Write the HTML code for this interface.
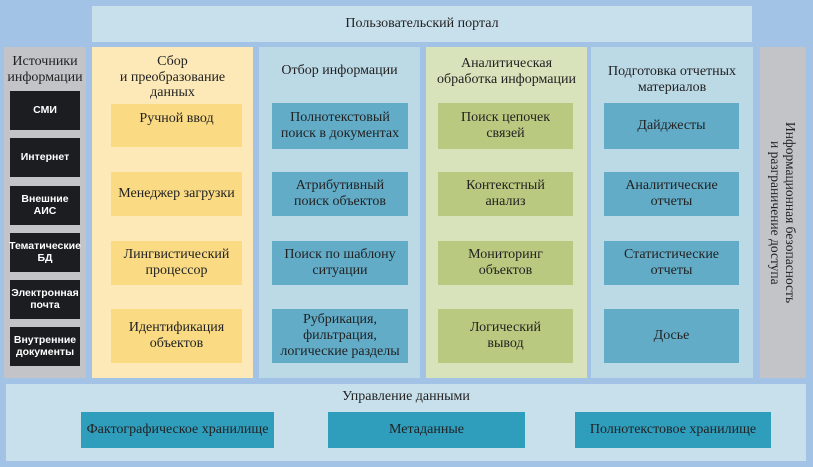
<!DOCTYPE html>
<html><head><meta charset="utf-8"><style>
*{margin:0;padding:0;box-sizing:border-box}
body{width:813px;height:467px;background:#a2c2e6;position:relative;overflow:hidden;font-family:"Liberation Serif","DejaVu Serif",serif;color:#222;}
.a{position:absolute;display:flex;align-items:center;justify-content:center;text-align:center;line-height:1.12}
.t{position:absolute;text-align:center;line-height:1.12;font-size:14px}
.blk{background:#1c1d21;color:#fff;font-weight:bold;font-size:10.5px;left:10px;width:70px;height:39px;font-family:"Liberation Sans Narrow","Liberation Sans",sans-serif}
.y{background:#fadb84;font-size:14px}
.b{background:#62acc8;font-size:14px}
.g{background:#b9c97f;font-size:14px}
.d{background:#2f9dbc;font-size:14px;top:412px;height:36px}
</style></head><body>
<div class="a" style="left:92px;top:6px;width:660px;height:36px;background:#c8e0ec;font-size:14px">Пользовательский портал</div>

<div class="a" style="left:4px;top:47px;width:82px;height:331px;background:#c3c4c8"></div>
<div class="t" style="left:2px;top:54px;width:86px;font-size:14px">Источники<br>информации</div>
<div class="a blk" style="top:91px">СМИ</div>
<div class="a blk" style="top:138px">Интернет</div>
<div class="a blk" style="top:186px">Внешние<br>АИС</div>
<div class="a blk" style="top:233px">Тематические<br>БД</div>
<div class="a blk" style="top:280px">Электронная<br>почта</div>
<div class="a blk" style="top:327px">Внутренние<br>документы</div>

<div class="a" style="left:92px;top:47px;width:161px;height:331px;background:#fde9b8"></div>
<div class="t" style="left:92px;top:54px;width:161px">Сбор<br>и преобразование<br>данных</div>
<div class="a y" style="left:111px;top:104px;width:131px;height:43px;align-items:flex-start;padding-top:7px">Ручной ввод</div>
<div class="a y" style="left:111px;top:172px;width:131px;height:44px">Менеджер загрузки</div>
<div class="a y" style="left:111px;top:241px;width:131px;height:44px">Лингвистический<br>процессор</div>
<div class="a y" style="left:111px;top:309px;width:131px;height:54px">Идентификация<br>объектов</div>

<div class="a" style="left:259px;top:47px;width:161px;height:331px;background:#bcd9e6"></div>
<div class="t" style="left:259px;top:63px;width:161px">Отбор информации</div>
<div class="a b" style="left:272px;top:103px;width:136px;height:46px">Полнотекстовый<br>поиск в документах</div>
<div class="a b" style="left:272px;top:172px;width:136px;height:44px">Атрибутивный<br>поиск объектов</div>
<div class="a b" style="left:272px;top:241px;width:136px;height:44px">Поиск по шаблону<br>ситуации</div>
<div class="a b" style="left:272px;top:309px;width:136px;height:54px">Рубрикация,<br>фильтрация,<br>логические разделы</div>

<div class="a" style="left:426px;top:47px;width:161px;height:331px;background:#d8e3bb"></div>
<div class="t" style="left:426px;top:56px;width:161px">Аналитическая<br>обработка информации</div>
<div class="a g" style="left:438px;top:103px;width:135px;height:46px">Поиск цепочек<br>связей</div>
<div class="a g" style="left:438px;top:172px;width:135px;height:44px">Контекстный<br>анализ</div>
<div class="a g" style="left:438px;top:241px;width:135px;height:44px">Мониторинг<br>объектов</div>
<div class="a g" style="left:438px;top:309px;width:135px;height:54px">Логический<br>вывод</div>

<div class="a" style="left:591px;top:47px;width:162px;height:331px;background:#bcd9e6"></div>
<div class="t" style="left:591px;top:64px;width:162px">Подготовка отчетных<br>материалов</div>
<div class="a b" style="left:604px;top:103px;width:135px;height:46px">Дайджесты</div>
<div class="a b" style="left:604px;top:172px;width:135px;height:44px">Аналитические<br>отчеты</div>
<div class="a b" style="left:604px;top:241px;width:135px;height:44px">Статистические<br>отчеты</div>
<div class="a b" style="left:604px;top:309px;width:135px;height:54px">Досье</div>

<div class="a" style="left:760px;top:47px;width:46px;height:331px;background:#c3c4c8">
<div style="writing-mode:vertical-rl;font-size:13.5px;line-height:15px;text-align:center">Информационная безопасность<br>и разграничение доступа</div></div>

<div class="a" style="left:6px;top:384px;width:800px;height:77px;background:#c8e0ec"></div>
<div class="t" style="left:6px;top:389px;width:800px">Управление данными</div>
<div class="a d" style="left:81px;width:193px">Фактографическое хранилище</div>
<div class="a d" style="left:328px;width:197px">Метаданные</div>
<div class="a d" style="left:575px;width:196px">Полнотекстовое хранилище</div>
</body></html>
